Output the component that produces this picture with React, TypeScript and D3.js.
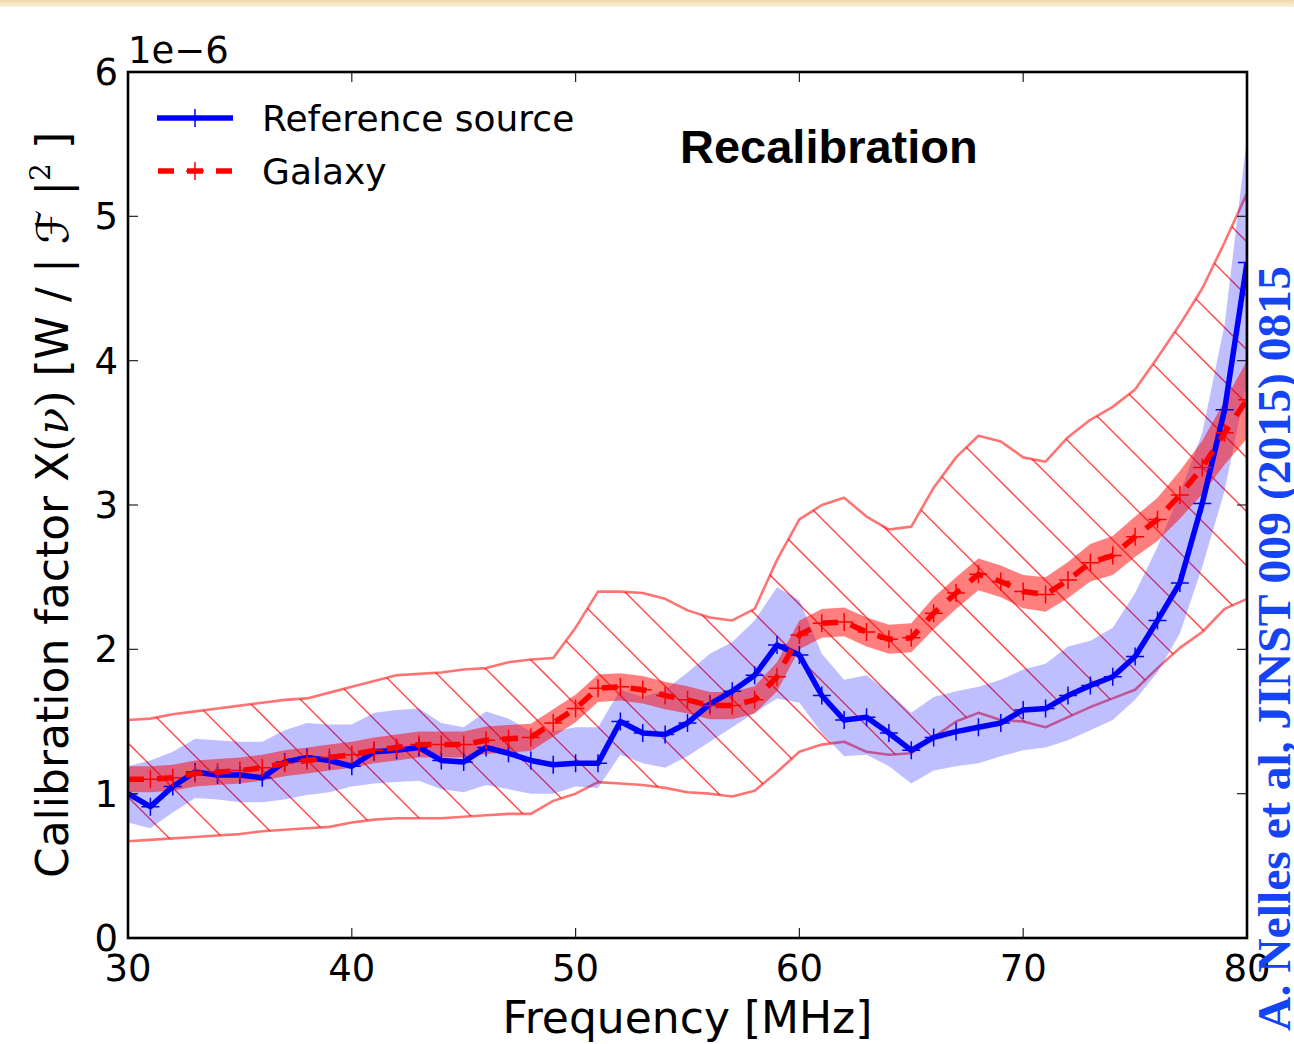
import React from "react";
import * as d3 from "d3";

const freqs = [30,31,32,33,34,35,36,37,38,39,40,41,42,43,44,45,46,47,48,49,50,51,52,53,54,55,56,57,58,59,60,61,62,63,64,65,66,67,68,69,70,71,72,73,74,75,76,77,78,79,80];

const refSource = [1.00,0.91,1.05,1.15,1.13,1.13,1.11,1.22,1.25,1.23,1.19,1.29,1.30,1.32,1.23,1.22,1.32,1.28,1.23,1.20,1.21,1.21,1.50,1.42,1.41,1.49,1.62,1.71,1.82,2.03,1.96,1.68,1.51,1.53,1.42,1.30,1.39,1.43,1.46,1.49,1.58,1.59,1.68,1.75,1.81,1.95,2.20,2.46,3.01,3.66,4.68];
const refUpper = [1.19,1.23,1.29,1.38,1.37,1.36,1.36,1.44,1.49,1.48,1.48,1.56,1.58,1.59,1.49,1.46,1.57,1.52,1.43,1.43,1.46,1.46,1.72,1.67,1.72,1.84,1.97,2.05,2.20,2.43,2.34,1.97,1.79,1.82,1.70,1.56,1.67,1.71,1.74,1.79,1.86,1.90,2.02,2.06,2.15,2.39,2.71,3.08,3.50,4.25,5.55];
const refLower = [0.80,0.76,0.87,0.97,0.96,0.94,0.94,0.96,0.99,1.01,1.05,1.07,1.08,1.09,1.03,1.01,1.06,1.03,1.00,1.00,1.05,1.04,1.27,1.21,1.18,1.26,1.36,1.46,1.56,1.66,1.63,1.42,1.26,1.27,1.19,1.07,1.16,1.19,1.21,1.26,1.30,1.32,1.37,1.44,1.51,1.65,1.84,2.11,2.57,3.10,3.85];

const galaxy = [1.10,1.10,1.11,1.14,1.15,1.16,1.18,1.21,1.23,1.25,1.27,1.30,1.32,1.34,1.34,1.34,1.37,1.38,1.39,1.49,1.59,1.73,1.74,1.72,1.68,1.65,1.61,1.61,1.65,1.81,2.10,2.18,2.19,2.12,2.07,2.08,2.25,2.39,2.52,2.47,2.40,2.38,2.48,2.60,2.65,2.78,2.90,3.07,3.26,3.50,3.73];
const galaxyErr = [0.09,0.09,0.09,0.09,0.09,0.09,0.09,0.09,0.09,0.09,0.09,0.09,0.09,0.09,0.09,0.09,0.095,0.095,0.095,0.095,0.095,0.095,0.095,0.095,0.095,0.095,0.095,0.095,0.095,0.10,0.10,0.10,0.10,0.10,0.10,0.10,0.11,0.11,0.11,0.11,0.115,0.12,0.125,0.13,0.135,0.14,0.15,0.165,0.185,0.22,0.27];

const sysUpper = [1.51,1.52,1.55,1.57,1.59,1.61,1.63,1.65,1.66,1.70,1.74,1.78,1.82,1.83,1.84,1.86,1.87,1.91,1.93,1.94,2.15,2.40,2.40,2.39,2.35,2.27,2.22,2.20,2.28,2.62,2.90,3.00,3.05,2.92,2.83,2.85,3.12,3.33,3.48,3.44,3.33,3.30,3.47,3.59,3.68,3.80,4.02,4.25,4.50,4.82,5.16];
const sysLower = [0.67,0.68,0.69,0.70,0.71,0.72,0.74,0.75,0.76,0.77,0.80,0.82,0.83,0.83,0.83,0.84,0.85,0.86,0.86,0.95,1.00,1.08,1.07,1.06,1.04,1.01,1.00,0.98,1.02,1.15,1.29,1.34,1.36,1.29,1.27,1.28,1.39,1.50,1.56,1.51,1.50,1.46,1.53,1.60,1.66,1.72,1.87,2.01,2.12,2.28,2.35];

const xTicks = [30, 40, 50, 60, 70, 80];
const yTicks = [0, 1, 2, 3, 4, 5, 6];

const L = 128, R = 1247, T = 72, B = 938;

export default function App() {
  const x = d3.scaleLinear().domain([30, 80]).range([L, R]);
  const y = d3.scaleLinear().domain([0, 6]).range([B, T]);
  const idx = freqs.map((_, i) => i);

  const area = (lo: number[], hi: number[]) =>
    d3.area<number>().x((i) => x(freqs[i])).y0((i) => y(lo[i])).y1((i) => y(hi[i]))(idx) || "";
  const line = (v: number[]) => d3.line<number>().x((i) => x(freqs[i])).y((i) => y(v[i]))(idx) || "";

  const sysPath = area(sysLower, sysUpper);
  const refBand = area(refLower, refUpper);
  const galLo = galaxy.map((v, i) => v - galaxyErr[i]);
  const galHi = galaxy.map((v, i) => v + galaxyErr[i]);
  const galBand = area(galLo, galHi);

  const sp = 54;
  const cStart = Math.floor((L - B) / sp) * sp + 33;
  const hatchC = d3.range(cStart, R - T + sp, sp);

  const plus = (cx: number, cy: number, s = 9) => `M${cx - s},${cy}H${cx + s}M${cx},${cy - s}V${cy + s}`;
  const refMarkers = idx.map((i) => plus(x(freqs[i]), y(refSource[i]))).join("");
  const galMarkers = idx.map((i) => plus(x(freqs[i]), y(galaxy[i]))).join("");

  const font = "'DejaVu Sans', sans-serif";

  return (
    <svg width={1294} height={1044} style={{ position: "absolute", left: 0, top: 0, background: "#fff" }}>
      <defs>
        <linearGradient id="topband" x1="0" y1="0" x2="0" y2="1">
          <stop offset="0" stopColor="#efd9ab" />
          <stop offset="1" stopColor="#fbf2df" />
        </linearGradient>
        <clipPath id="axclip">
          <rect x={L} y={T} width={R - L} height={B - T} />
        </clipPath>
        <clipPath id="sysclip">
          <path d={sysPath} />
        </clipPath>
      </defs>
      <rect x={0} y={0} width={1294} height={1044} fill="#fff" />
      <rect x={0} y={0} width={1294} height={7} fill="url(#topband)" />

      <g clipPath="url(#axclip)">
        <g clipPath="url(#sysclip)">
          {hatchC.map((c) => (
            <line key={c} x1={c + T} y1={T} x2={c + B} y2={B} stroke="#ff0000" strokeOpacity={0.75} strokeWidth={1.3} />
          ))}
        </g>
        <path d={sysPath} fill="none" stroke="#ff0000" strokeOpacity={0.55} strokeWidth={2.6} strokeLinejoin="round" />
        <path d={refBand} fill="#0000ff" fillOpacity={0.25} stroke="none" />
        <path d={galBand} fill="#ff0000" fillOpacity={0.5} stroke="none" />
        <path d={line(refSource)} fill="none" stroke="#0000ff" strokeWidth={5.5} strokeLinejoin="round" />
        <path d={refMarkers} fill="none" stroke="#0000ff" strokeWidth={1.5} />
        <path d={line(galaxy)} fill="none" stroke="#ff0000" strokeWidth={5.5} strokeDasharray="16 13" />
        <path d={galMarkers} fill="none" stroke="#ff0000" strokeWidth={1.5} />
      </g>

      {/* ticks */}
      <g stroke="#222" strokeWidth={1.2}>
        {xTicks.map((t) => (
          <g key={"xt" + t}>
            <line x1={x(t)} x2={x(t)} y1={B} y2={B - 10} />
            <line x1={x(t)} x2={x(t)} y1={T} y2={T + 10} />
          </g>
        ))}
        {yTicks.map((t) => (
          <g key={"yt" + t}>
            <line x1={L} x2={L + 10} y1={y(t)} y2={y(t)} />
            <line x1={R} x2={R - 10} y1={y(t)} y2={y(t)} />
          </g>
        ))}
      </g>
      <rect x={L} y={T} width={R - L} height={B - T} fill="none" stroke="#000" strokeWidth={2.6} />

      <g fontFamily={font} fontSize={37} fill="#000">
        {xTicks.map((t) => (
          <text key={"xl" + t} x={x(t)} y={981} textAnchor="middle">{t}</text>
        ))}
        {yTicks.map((t) => (
          <text key={"yl" + t} x={118} y={y(t) + 13} textAnchor="end">{t}</text>
        ))}
        <text x={128} y={63}>1e−6</text>
      </g>

      <text x={(L + R) / 2} y={1033} textAnchor="middle" fontFamily={font} fontSize={44}>Frequency [MHz]</text>

      <text transform={`translate(68, ${(T + B) / 2}) rotate(-90)`} textAnchor="middle" fontFamily={font} fontSize={44}>
        <tspan>Calibration factor X</tspan>
        <tspan fontFamily="'DejaVu Serif', serif">(</tspan>
        <tspan fontFamily="'DejaVu Serif', serif" fontStyle="italic">ν</tspan>
        <tspan fontFamily="'DejaVu Serif', serif">)</tspan>
        <tspan> [W / </tspan>
        <tspan fontFamily="'DejaVu Serif', serif">| </tspan>
        <tspan fontFamily="'DejaVu Sans', sans-serif">ℱ</tspan>
        <tspan fontFamily="'DejaVu Serif', serif"> |</tspan>
        <tspan fontFamily="'DejaVu Serif', serif" fontSize={28} dy={-18}>2</tspan>
        <tspan dy={18}> ]</tspan>
      </text>

      {/* legend */}
      <line x1={157} x2={233} y1={118} y2={118} stroke="#0000ff" strokeWidth={5.5} />
      <path d={plus(195, 118)} stroke="#0000ff" strokeWidth={1.5} />
      <text x={262} y={131} fontFamily={font} fontSize={36}>Reference source</text>
      <line x1={158} x2={233} y1={171} y2={171} stroke="#ff0000" strokeWidth={5.5} strokeDasharray="16 13" />
      <path d={plus(195, 171)} stroke="#ff0000" strokeWidth={1.5} />
      <text x={262} y={184} fontFamily={font} fontSize={36}>Galaxy</text>

      <text x={680} y={163} fontFamily="'Liberation Sans', Arial, sans-serif" fontWeight="bold" fontSize={47}>Recalibration</text>

      <text transform="translate(1290, 1031) rotate(-90)" fontFamily="'Liberation Serif', 'Times New Roman', serif" fontWeight="bold" fontSize={47} fill="#1444f5" textLength={765} lengthAdjust="spacingAndGlyphs">A. Nelles et al, JINST 009 (2015) 0815</text>
    </svg>
  );
}
